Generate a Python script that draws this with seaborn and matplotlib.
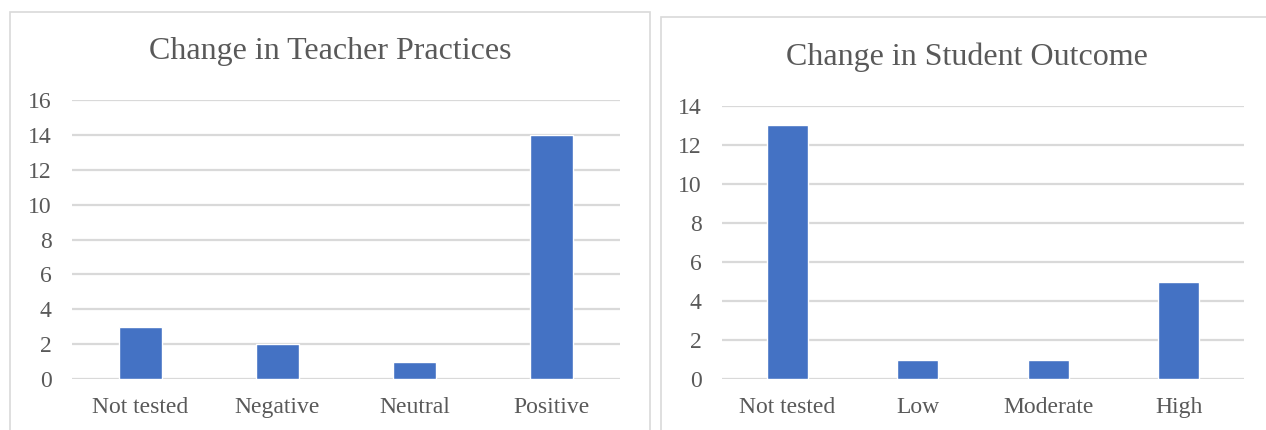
import matplotlib
matplotlib.use("Agg")
import matplotlib.pyplot as plt
import seaborn as sns
from matplotlib.patches import Rectangle

# Data
teacher_categories = ["Not tested", "Negative", "Neutral", "Positive"]
teacher_counts = [3, 2, 1, 14]
student_categories = ["Not tested", "Low", "Moderate", "High"]
student_counts = [13, 1, 1, 5]
teacher_yticks = [0, 2, 4, 6, 8, 10, 12, 14, 16]
student_yticks = [0, 2, 4, 6, 8, 10, 12, 14]

BAR = "#4472C4"
GRID = "#D9D9D9"
TEXT = "#595959"

sns.set_theme(style="white")
plt.rcParams["font.family"] = ["Liberation Serif", "DejaVu Serif"]

W, H = 1266, 430
fig = plt.figure(figsize=(W / 100, H / 100), dpi=100)


def px_axes(x0, x1, ytop, ybot):
    return fig.add_axes([x0 / W, (H - ybot) / H, (x1 - x0) / W, (ybot - ytop) / H])


# Chart frames
fig.patches.append(Rectangle((10 / W, -0.05), 640 / W, (H - 12) / H + 0.05,
                             transform=fig.transFigure, fill=False,
                             edgecolor=GRID, linewidth=1.2, zorder=0))
fig.patches.append(Rectangle((661 / W, -0.05), 700 / W, (H - 17) / H + 0.05,
                             transform=fig.transFigure, fill=False,
                             edgecolor=GRID, linewidth=1.2, zorder=0))


def draw(ax, cats, vals, yticks, title, title_x, title_y):
    sns.barplot(x=cats, y=vals, color=BAR, width=0.315, saturation=1,
                ax=ax, zorder=2)
    ax.set_ylim(yticks[0], yticks[-1])
    ax.set_xlim(-0.5, len(cats) - 0.5)
    ax.set_yticks(yticks)
    ax.yaxis.grid(True, color=GRID, linewidth=1.6)
    ax.set_axisbelow(True)
    for s in ax.spines.values():
        s.set_visible(False)
    ax.tick_params(axis="both", length=0, labelsize=17, labelcolor=TEXT)
    ax.tick_params(axis="y", pad=14.5)
    ax.tick_params(axis="x", pad=13)
    ax.set_xlabel("")
    ax.set_ylabel("")
    fig.text(title_x / W, 1 - title_y / H,
             title, ha="center", va="center", fontsize=23, color=TEXT)


ax1 = px_axes(72, 620, 100, 379)
draw(ax1, teacher_categories, teacher_counts, teacher_yticks,
     "Change in Teacher Practices", 330, 51)

ax2 = px_axes(722, 1244, 106, 379)
draw(ax2, student_categories, student_counts, student_yticks,
     "Change in Student Outcome", 967, 57)

fig.savefig("out.png", dpi=100, facecolor="white")
